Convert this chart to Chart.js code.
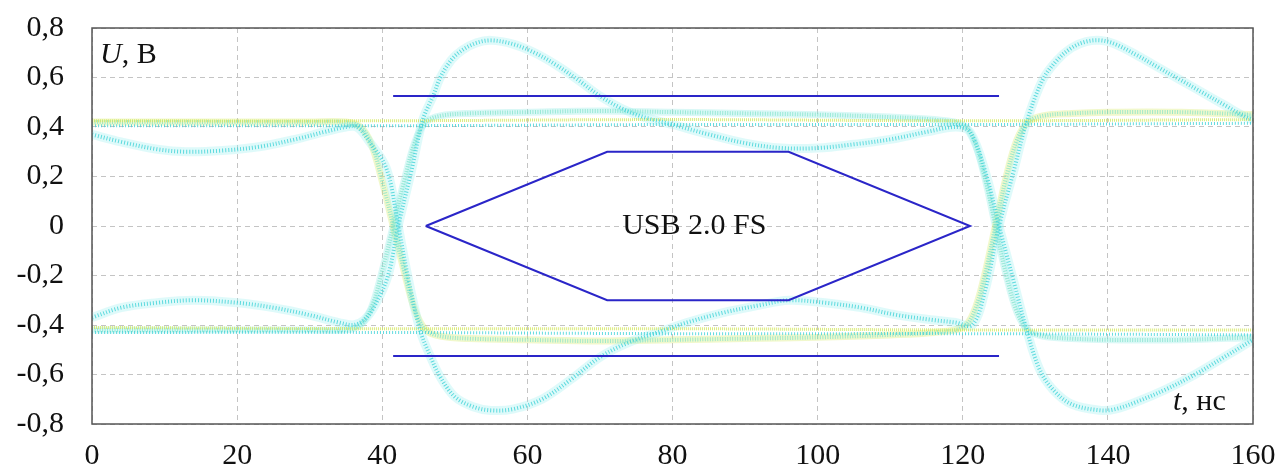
<!DOCTYPE html>
<html>
<head>
<meta charset="utf-8">
<script src="https://cdn.jsdelivr.net/npm/chart.js@4.4.1/dist/chart.umd.min.js"></script>
<style>
  html, body { margin: 0; padding: 0; background: #fff; }
  #wrap { width: 1285px; height: 475px; }
</style>
</head>
<body>
<div id="wrap"><canvas id="eye"></canvas></div>
<script>
// axis ticks
const xTicks = [0, 20, 40, 60, 80, 100, 120, 140, 160];
const yTicks = [-0.8, -0.6, -0.4, -0.2, 0, 0.2, 0.4, 0.6, 0.8];

// trace A: low bump -> big rise -> dip -> big fall
const tA = [0, 4, 9, 14, 20, 25, 30, 34, 36, 37.5, 39, 40.8, 42.2, 44, 45.6, 47, 48, 49.5, 51, 53, 55, 58, 61, 64, 67, 70, 73, 76, 80, 85, 90, 95, 100, 105, 110, 115, 119, 121, 123.3, 125, 126.9, 128.8, 130.6, 132.4, 135, 139, 141, 144, 148, 152, 156, 160];
const uA = [-0.37, -0.33, -0.31, -0.30, -0.31, -0.33, -0.36, -0.39, -0.40, -0.38, -0.32, -0.20, 0, 0.22, 0.43, 0.525, 0.60, 0.67, 0.71, 0.74, 0.75, 0.735, 0.70, 0.65, 0.59, 0.525, 0.475, 0.44, 0.41, 0.37, 0.335, 0.315, 0.315, 0.33, 0.35, 0.38, 0.40, 0.38, 0.20, 0, -0.21, -0.42, -0.58, -0.66, -0.72, -0.745, -0.74, -0.71, -0.66, -0.60, -0.53, -0.46];

// trace B: high dip -> big fall -> bump -> big rise
const tB = [0, 4, 9, 13, 18, 23, 28, 32, 35, 36.5, 38, 40.6, 42.2, 43.5, 45.2, 46.6, 48, 50, 52.5, 55, 58, 62, 66, 70, 74, 78, 82, 87, 92, 96, 101, 106, 111, 116, 119, 121.3, 123, 125, 127, 128.8, 131, 133, 135, 137, 139, 141, 144, 147, 150, 153, 156, 159, 160];
const uB = [0.37, 0.34, 0.31, 0.30, 0.305, 0.32, 0.35, 0.38, 0.40, 0.40, 0.35, 0.23, 0, -0.20, -0.42, -0.525, -0.61, -0.69, -0.73, -0.745, -0.74, -0.70, -0.62, -0.53, -0.47, -0.43, -0.39, -0.35, -0.32, -0.30, -0.31, -0.33, -0.36, -0.38, -0.39, -0.40, -0.27, 0, 0.22, 0.42, 0.59, 0.67, 0.72, 0.745, 0.75, 0.735, 0.69, 0.64, 0.59, 0.54, 0.49, 0.44, 0.43];

// traces C / D: small transitions between the level bands
const tC = [0, 10, 20, 30, 35, 37, 38.5, 40, 41.5, 43, 44.5, 46, 48, 52, 60, 70, 80, 90, 100, 110, 116, 120, 121.5, 123, 124.5, 126, 127.5, 129, 131, 135, 140, 150, 160];
const uC = [0.42, 0.42, 0.42, 0.42, 0.42, 0.40, 0.33, 0.18, 0, -0.18, -0.34, -0.42, -0.445, -0.455, -0.46, -0.465, -0.46, -0.455, -0.45, -0.44, -0.43, -0.41, -0.35, -0.20, 0, 0.20, 0.35, 0.42, 0.445, 0.455, 0.46, 0.46, 0.45];
const uD = [-0.42, -0.42, -0.42, -0.42, -0.42, -0.40, -0.33, -0.18, 0, 0.18, 0.34, 0.42, 0.445, 0.455, 0.46, 0.465, 0.46, 0.455, 0.45, 0.44, 0.43, 0.41, 0.35, 0.20, 0, -0.20, -0.35, -0.42, -0.445, -0.455, -0.46, -0.46, -0.45];

// steady levels
const tLevel = [0, 40, 80, 120, 160];
const uHiY = [0.425, 0.425, 0.43, 0.425, 0.43];
const uHiC = [0.405, 0.405, 0.41, 0.41, 0.415];
const uLoY = [-0.41, -0.415, -0.415, -0.42, -0.42];
const uLoC = [-0.43, -0.43, -0.435, -0.435, -0.44];

// USB 2.0 FS mask
const maskT = [46, 71, 96, 121, 96, 71, 46];
const maskU = [0, 0.3, 0.3, 0, -0.3, -0.3, 0];
const limT = [41.5, 125];
const limHi = [0.525, 0.525];
const limLo = [-0.525, -0.525];

const zip = (xs, ys) => xs.map((x, i) => ({ x: x, y: ys[i] }));

const CYAN_BAND = 'rgba(150, 238, 238, 0.3)';
const CYAN_DOT = 'rgba(60, 210, 215, 0.8)';
const YEL_DOT = 'rgba(210, 230, 90, 0.8)';
const MIX_DOT = 'rgba(120, 225, 200, 0.7)';
const BLUE = '#2a25c8';

function trace(data, color, width, dash, order, tension) {
    return {
        data: data, borderColor: color, borderWidth: width, borderDash: dash,
        showLine: true, pointRadius: 0, tension: tension === undefined ? 0.35 : tension,
        fill: false, order: order
    };
}

const datasets = [
    trace(zip(maskT, maskU), BLUE, 2, [], 0, 0),
    trace(zip(limT, limHi), BLUE, 2, [], 0, 0),
    trace(zip(limT, limLo), BLUE, 2, [], 0, 0),

    trace(zip(tLevel, uHiY), YEL_DOT, 3, [1, 1], 2),
    trace(zip(tLevel, uHiC), CYAN_DOT, 3, [1, 2], 2),
    trace(zip(tLevel, uLoY), YEL_DOT, 3, [1, 1], 2),
    trace(zip(tLevel, uLoC), CYAN_DOT, 3, [1, 2], 2),

    trace(zip(tC, uC), MIX_DOT, 4, [1, 1.5], 3),
    trace(zip(tC, uD), MIX_DOT, 4, [1, 1.5], 3),
    trace(zip(tC, uC), 'rgba(215, 235, 110, 0.35)', 7, [], 5),
    trace(zip(tC, uD), 'rgba(150, 235, 230, 0.35)', 7, [], 5),

    trace(zip(tA, uA), CYAN_DOT, 4, [1, 2], 1),
    trace(zip(tB, uB), CYAN_DOT, 4, [1, 2], 1),
    trace(zip(tA, uA), CYAN_BAND, 9, [], 4),
    trace(zip(tB, uB), CYAN_BAND, 9, [], 4)
];

const textLayer = {
    id: 'textLayer',
    afterDraw(chart) {
        const ctx = chart.ctx;
        const a = chart.chartArea;
        const xs = chart.scales.x, ys = chart.scales.y;
        ctx.save();
        // frame round the plot
        ctx.strokeStyle = '#555';
        ctx.lineWidth = 1.5;
        ctx.strokeRect(a.left, a.top, a.right - a.left, a.bottom - a.top);

        ctx.fillStyle = '#111';
        ctx.textBaseline = 'alphabetic';
        ctx.textAlign = 'left';
        ctx.font = 'italic 30px "Liberation Serif"';
        ctx.fillText('U', a.left + 8, a.top + 35);
        let w = ctx.measureText('U').width;
        ctx.font = '30px "Liberation Serif"';
        ctx.fillText(', В', a.left + 8 + w, a.top + 35);

        ctx.font = 'italic 30px "Liberation Serif"';
        ctx.fillText('t', a.right - 80, a.bottom - 14);
        w = ctx.measureText('t').width;
        ctx.font = '30px "Liberation Serif"';
        ctx.fillText(', нс', a.right - 80 + w, a.bottom - 14);

        ctx.textAlign = 'center';
        ctx.textBaseline = 'middle';
        ctx.fillText('USB 2.0 FS', xs.getPixelForValue(83), ys.getPixelForValue(0));
        ctx.restore();
    }
};

const fmt = v => (Math.abs(v) < 1e-9 ? '0' : v.toFixed(1).replace('.', ','));

new Chart(document.getElementById('eye'), {
    type: 'scatter',
    data: { datasets: datasets },
    options: {
        responsive: true,
        maintainAspectRatio: false,
        animation: false,
        layout: { padding: { top: 28, right: 32, left: 0, bottom: 0 } },
        plugins: { legend: { display: false }, tooltip: { enabled: false } },
        scales: {
            x: {
                type: 'linear', min: 0, max: 160,
                afterBuildTicks: s => { s.ticks = xTicks.map(v => ({ value: v })); },
                afterFit: s => { s.height = 51; s.paddingLeft = 0; s.paddingRight = 0; },
                ticks: { color: '#111', font: { family: 'Liberation Serif', size: 30 }, padding: 14, maxRotation: 0 },
                grid: { color: '#c4c4c4', lineWidth: 1, drawTicks: false },
                border: { display: false, dash: [5, 4] }
            },
            y: {
                type: 'linear', min: -0.8, max: 0.8,
                afterBuildTicks: s => { s.ticks = yTicks.map(v => ({ value: v })); },
                afterFit: s => { s.width = 92; s.paddingTop = 0; s.paddingBottom = 0; },
                ticks: { color: '#111', font: { family: 'Liberation Serif', size: 30 }, padding: 28, callback: v => fmt(v) },
                grid: { color: '#c4c4c4', lineWidth: 1, drawTicks: false },
                border: { display: false, dash: [5, 4] }
            }
        }
    },
    plugins: [textLayer]
});
</script>
</body>
</html>
